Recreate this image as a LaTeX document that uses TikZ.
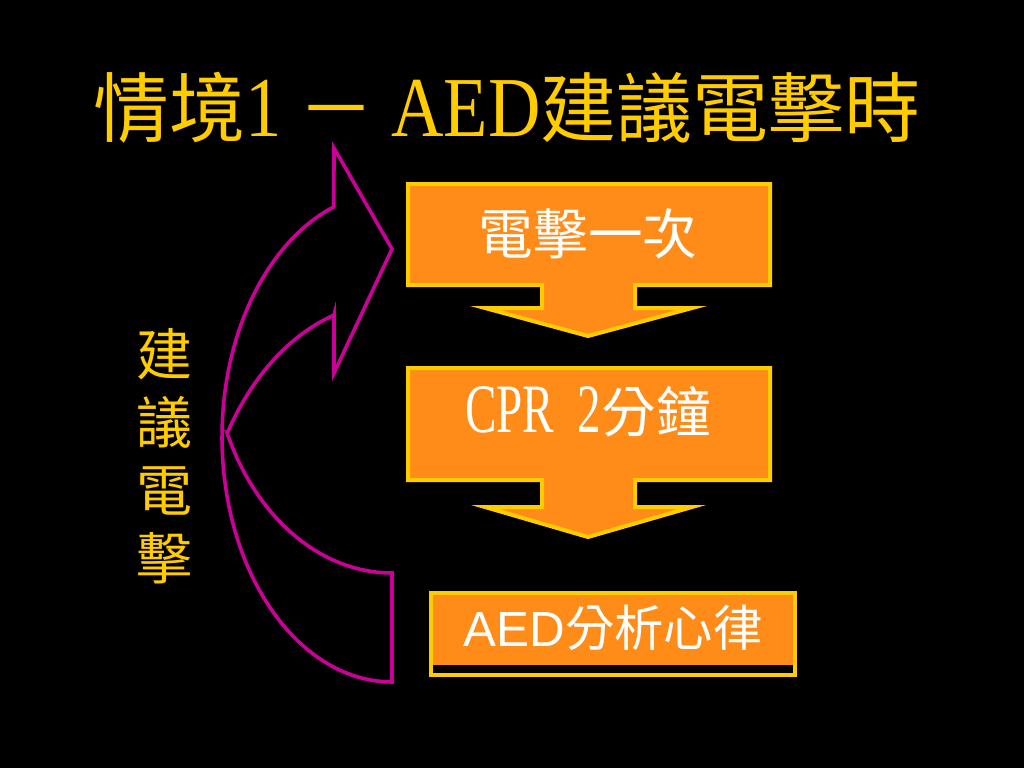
\documentclass[tikz,border=0pt]{standalone}
\usepackage{fontspec}
\usepackage{graphicx}
\setmainfont{Liberation Serif}
\newfontfamily\cjk{Noto Sans CJK TC}
\newfontfamily\arialf{Liberation Sans}
\definecolor{bgblack}{RGB}{0,0,0}
\definecolor{titleyellow}{RGB}{255,204,0}
\definecolor{boxorange}{RGB}{255,140,25}
\definecolor{borderyellow}{RGB}{255,204,0}
\definecolor{arrowmagenta}{RGB}{204,0,153}
\newcommand{\latxt}[3]{\scalebox{#1}[1]{\fontsize{#2}{#2}\selectfont\rmfamily #3}}
\begin{document}
\begin{tikzpicture}[x={(0.75pt,0)},y={(0,-0.75pt)},
  flowbox/.style={fill=boxorange,draw=borderyellow,line width=3pt,line join=miter},
  bendarrow/.style={draw=arrowmagenta,line width=2.7pt,line join=miter},
  boxtext/.style={text=white,inner sep=0pt},
  yellowtext/.style={text=titleyellow,inner sep=0pt}]
\fill[bgblack] (0,0) rectangle (1024,768);
\useasboundingbox (0,0) rectangle (1024,768);

% title
\node[yellowtext,anchor=base,font={\fontsize{57}{60}\selectfont\cjk}] (title) at (507,136)
  {情境\latxt{0.85}{64pt}{1}\ －\ \latxt{0.85}{64pt}{AED}建議電擊時};

% box 1 with down arrow
\path[flowbox] (408,184) -- (770,184) -- (770,285) -- (635,285) -- (635,308) -- (692,308)
  -- (588,336) -- (485,308) -- (542,308) -- (542,285) -- (408,285) -- cycle;
\node[boxtext,anchor=base,font={\fontsize{41}{45}\selectfont\cjk}] (shock) at (588,254) {電擊一次};

% box 2 with down arrow
\path[flowbox] (408,368) -- (770,368) -- (770,480) -- (635,480) -- (635,507) -- (692,507)
  -- (588,537) -- (485,507) -- (542,507) -- (542,480) -- (408,480) -- cycle;
\node[boxtext,anchor=base,font={\fontsize{41}{45}\selectfont\cjk}] (cpr) at (588,432)
  {\latxt{0.68}{52pt}{CPR\ \ 2}分鐘};

% box 3
\path[flowbox] (431,593) rectangle (795,675);
\fill[black] (433,665) rectangle (793,673);
\node[boxtext,anchor=base,font={\fontsize{37}{40}\selectfont}] (aed) at (613,646)
  {{\arialf AED}{\cjk 分析心律}};

% side text
\node[yellowtext,align=center,font={\fontsize{42}{51}\selectfont\cjk}] (side) at (164,456)
  {建\\議\\電\\擊};

% curved arrow
\draw[bendarrow] (392,682)
  -- plot[domain=90:250,samples=60] ({392+170*cos(\x)},{437+245*sin(\x)})
  -- (334,148) -- (392,249) -- (334,373) -- (334,315)
  -- plot[domain=252.5:211.4,samples=30] ({392+193*cos(\x)},{575+272.5*sin(\x)})
  -- plot[domain=155.7:90,samples=40] ({392+181*cos(\x)},{335+238*sin(\x)})
  -- cycle;
\end{tikzpicture}
\end{document}
